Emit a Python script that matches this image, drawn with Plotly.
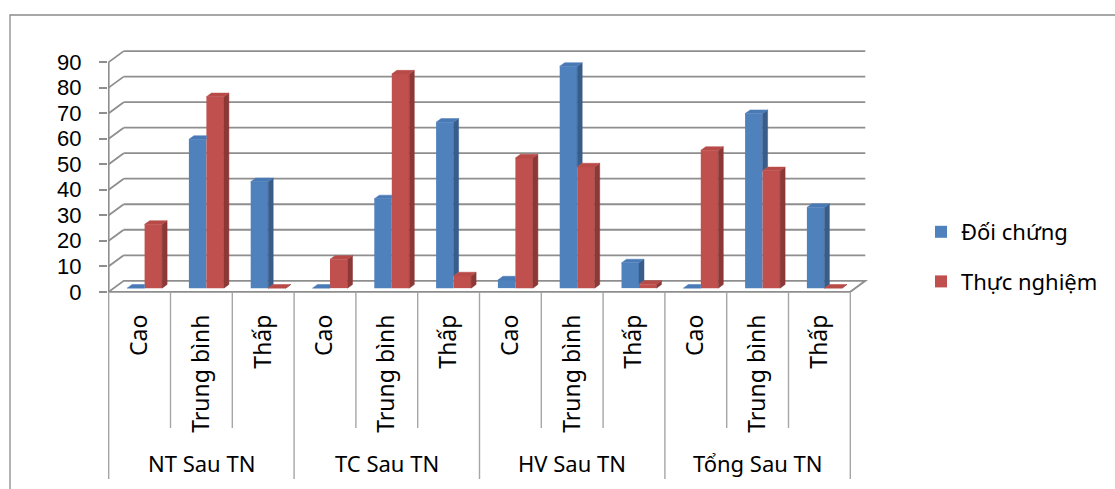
import plotly.graph_objects as go

# ---------------------------------------------------------------- data
groups = ["NT Sau TN", "TC Sau TN", "HV Sau TN", "Tổng Sau TN"]
levels = ["Cao", "Trung bình", "Thấp"]
series_names = ["Đối chứng", "Thực nghiệm"]
doi_chung = [0.0, 58.3, 41.7, 0.0, 35.0, 65.0, 3.2, 86.9, 9.9, 0.0, 68.4, 31.6]
thuc_nghiem = [25.0, 75.0, 0.0, 11.3, 83.9, 4.8, 51.0, 47.5, 1.5, 54.0, 46.0, 0.0]
y_ticks = [0, 10, 20, 30, 40, 50, 60, 70, 80, 90]

categories = [lv for _ in groups for lv in levels]
idx = list(range(len(categories)))

# ---------------------------------------------------------------- geometry
W, H = 1115, 489
L, R, T, B = 108, 872, 45, 296          # plot area in pixels
slot_px = 61.8                          # width of one category slot
edge_px = 108.7                         # left edge of the category band
zero_px = 291.8                         # pixel row of value 0 (front)
unit_px = 2.552                         # pixels per value unit

x_lo = -0.5 - (edge_px - L) / slot_px
x_hi = x_lo + (R - L) / slot_px
y_lo = -(B - zero_px) / unit_px
y_hi = (zero_px - T) / unit_px


def paper_x(px):
    return (px - L) / (R - L)


def paper_y(py):
    return (B - py) / (B - T)


# pseudo-3D depth of the wall and of the columns
wall_dx = 15 / slot_px
wall_dy = 11 / unit_px
bar_dx = wall_dx / 3
bar_dy = wall_dy / 3
front_dx = wall_dx / 3
base = wall_dy / 3
bar_w = 17.5 / slot_px

x_first = idx[0] - 0.5
x_last = idx[-1] + 0.5

BLUE, BLUE_SIDE, BLUE_TOP = "#4F81BD", "#385D8A", "#4A7AB6"
RED, RED_SIDE, RED_TOP = "#C0504D", "#8C3836", "#B84B48"
GRID = "#8E8E8E"
FONT = "Noto Sans"
NUM_FONT = "Liberation Sans"

fig = go.Figure()

# front faces of the columns
blue_x = [i + front_dx - bar_w / 2 for i in idx]
red_x = [i + front_dx + bar_w / 2 for i in idx]
fig.add_trace(go.Bar(x=blue_x, y=doi_chung, base=base, width=bar_w,
                     marker=dict(color=BLUE, line=dict(width=0)),
                     name=series_names[0], legendgroup="a"))
fig.add_trace(go.Bar(x=red_x, y=thuc_nghiem, base=base, width=bar_w,
                     marker=dict(color=RED, line=dict(width=0)),
                     name=series_names[1], legendgroup="b"))


# side and top faces
def poly_trace(xs, ys, color):
    return go.Scatter(x=xs, y=ys, mode="lines", fill="toself",
                      fillcolor=color, line=dict(color=color, width=0.5),
                      hoverinfo="skip", showlegend=False)


bs_x, bs_y, bt_x, bt_y = [], [], [], []
rs_x, rs_y, rt_x, rt_y = [], [], [], []
for i, b, r in zip(idx, doi_chung, thuc_nghiem):
    xl = i + front_dx - bar_w
    xm = i + front_dx
    xr = i + front_dx + bar_w
    bt = base + b
    rt = base + r
    # blue top (right part hidden by the taller red column)
    if r > b:
        bt_x += [xl, xm, xm, xl + bar_dx, xl, None]
        bt_y += [bt, bt, bt + bar_dy, bt + bar_dy, bt, None]
    else:
        bt_x += [xl, xm, xm + bar_dx, xl + bar_dx, xl, None]
        bt_y += [bt, bt, bt + bar_dy, bt + bar_dy, bt, None]
        # blue side visible above the red column
        bs_x += [xm, xm + bar_dx, xm + bar_dx, xm, xm, None]
        bs_y += [rt, rt + bar_dy, bt + bar_dy, bt, rt, None]
    # red side and top
    rs_x += [xr, xr + bar_dx, xr + bar_dx, xr, xr, None]
    rs_y += [base, base + bar_dy, rt + bar_dy, rt, base, None]
    rt_x += [xm, xr, xr + bar_dx, xm + bar_dx, xm, None]
    rt_y += [rt, rt, rt + bar_dy, rt + bar_dy, rt, None]

fig.add_trace(poly_trace(bs_x, bs_y, BLUE_SIDE))
fig.add_trace(poly_trace(bt_x, bt_y, BLUE_TOP))
fig.add_trace(poly_trace(rs_x, rs_y, RED_SIDE))
fig.add_trace(poly_trace(rt_x, rt_y, RED_TOP))

shapes = []
line_style = dict(color=GRID, width=1.8)

# back wall gridlines
for v in y_ticks[1:]:
    shapes.append(dict(type="line", xref="x", yref="y", layer="below",
                       x0=x_first, y0=v, x1=x_first + wall_dx, y1=v + wall_dy,
                       line=line_style))
    shapes.append(dict(type="line", xref="x", yref="y", layer="below",
                       x0=x_first + wall_dx, y0=v + wall_dy,
                       x1=x_last + wall_dx, y1=v + wall_dy, line=line_style))

# floor
floor = (f"M{x_first},0 L{x_last},0 L{x_last + wall_dx},{wall_dy} "
         f"L{x_first + wall_dx},{wall_dy} Z")
shapes.append(dict(type="path", xref="x", yref="y", layer="below",
                   path=floor, line=line_style))

# front value axis
shapes.append(dict(type="line", xref="x", yref="y", layer="below",
                   x0=x_first, y0=0, x1=x_first, y1=y_ticks[-1],
                   line=line_style))

# category / group dividers below the floor
DIV = "#A6A6A6"
for k in range(len(categories) + 1):
    is_group = k % len(levels) == 0
    shapes.append(dict(type="line", xref="x", yref="paper",
                       x0=k - 0.5, x1=k - 0.5,
                       y0=paper_y(292), y1=paper_y(479 if is_group else 428),
                       line=dict(color=DIV, width=1.4)))

# chart frame
shapes.append(dict(type="rect", xref="paper", yref="paper",
                   x0=paper_x(10), y0=paper_y(15), x1=paper_x(1125),
                   y1=paper_y(500), line=dict(color="#8A8A8A", width=1.3),
                   fillcolor="rgba(0,0,0,0)", layer="below"))

annotations = []
for g, name in enumerate(groups):
    annotations.append(dict(text=name, xref="x", yref="paper",
                            x=g * len(levels) + (len(levels) - 1) / 2,
                            y=paper_y(463), showarrow=False,
                            font=dict(family=FONT, size=22, color="black"),
                            xanchor="center", yanchor="middle"))

fig.update_layout(
    width=W, height=H,
    margin=dict(l=L, r=W - R, t=T, b=H - B, pad=0),
    paper_bgcolor="white", plot_bgcolor="rgba(0,0,0,0)",
    barmode="overlay",
    font=dict(family=FONT, size=22, color="black"),
    showlegend=True,
    legend=dict(x=paper_x(921), y=paper_y(211), xanchor="left", yanchor="top",
                font=dict(family=FONT, size=22, color="black"),
                tracegroupgap=18, bgcolor="rgba(0,0,0,0)"),
    shapes=shapes,
    annotations=annotations,
    xaxis=dict(range=[x_lo, x_hi], tickmode="array", tickvals=idx,
               ticktext=categories, tickangle=-90, ticks="",
               showgrid=False, zeroline=False, showline=False,
               ticklabelstandoff=13,
               tickfont=dict(family=FONT, size=23, color="black")),
    yaxis=dict(range=[y_lo, y_hi], tickmode="array", tickvals=y_ticks,
               ticks="outside", ticklen=8, tickwidth=1.8, tickcolor=GRID,
               showgrid=False, zeroline=False, showline=False,
               ticklabelstandoff=13,
               tickfont=dict(family=NUM_FONT, size=22, color="black")),
)

fig.write_html("out.html")
